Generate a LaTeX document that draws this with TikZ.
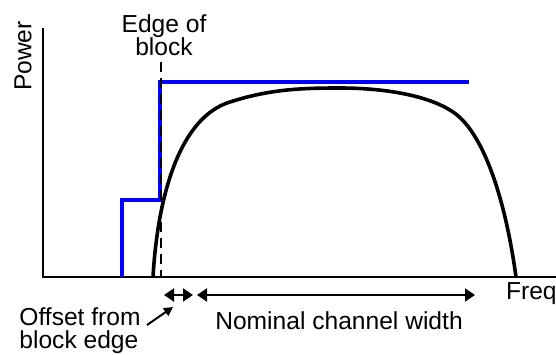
\documentclass[tikz,border=0pt]{standalone}
\usepackage{fontspec}
\setmainfont{Liberation Sans}
\usetikzlibrary{calc, arrows.meta}

\begin{document}
\begin{tikzpicture}[x=0.5pt, y=0.5pt, font=\fontsize{12.3}{11.5}\selectfont,
    tips/.style={{Triangle[length=5pt, width=6.5pt]}-{Triangle[length=5pt, width=6.5pt]}}]
    \def\axisW{513}
    \def\axisH{249}
    \def\edgeX{118}
    \def\lowX{79}
    \def\lowY{77}
    \def\highY{195}
    \def\arrowY{-18}

    \useasboundingbox (-43,-77) rectangle (513,277);

    \coordinate (O) at (0,0);
    %axes
    \draw[line width=1pt] (0,\axisH) coordinate (T) -- (O) -- (\axisW,0) coordinate (R);

    %block mask
    \draw[blue, line width=1.6pt] (\lowX,0) -- ++(90:\lowY) -- (\edgeX-1,\lowY) -- (\edgeX-1,\highY) -- (426,\highY);

    %edge of block
    \draw[dash pattern=on 5pt off 3pt, line width=1pt] (\edgeX,215) coordinate (E) -- (\edgeX,0) coordinate (F);

    %spectrum
    \draw[line width=1.8pt] (110,0) .. controls (115,85) and (138,160) .. (187,175)
        .. controls (227,188) and (260,189) .. (297,189)
        .. controls (340,189) and (385,182) .. (410,165)
        .. controls (440,145) and (462,80) .. (473,0);

    %labels
    \node[rotate=90] (power) at (-20,221) {Power};
    \node[align=center] (edge) at (121,242) {Edge of\\block};
    \node[anchor=west] (freq) at (456,-17) {Freq};
    \node (nominal) at (296,-44) {Nominal channel width};
    \node[align=left] (offset) at (37,-54) {Offset from\\block edge};

    %arrows
    \coordinate (A1) at (121,\arrowY);
    \coordinate (A2) at (150,\arrowY);
    \coordinate (B1) at (154,\arrowY);
    \coordinate (B2) at (432,\arrowY);
    \coordinate (P) at (104,-48);
    \coordinate (Q) at (130,-30);
    \draw[tips, line width=1pt] (A1) -- (A2);
    \draw[tips, line width=1pt] (B1) -- (B2);
    \draw[-{Triangle[length=4.5pt, width=4.5pt]}, line width=1pt] (P) -- (Q);
\end{tikzpicture}
\end{document}
